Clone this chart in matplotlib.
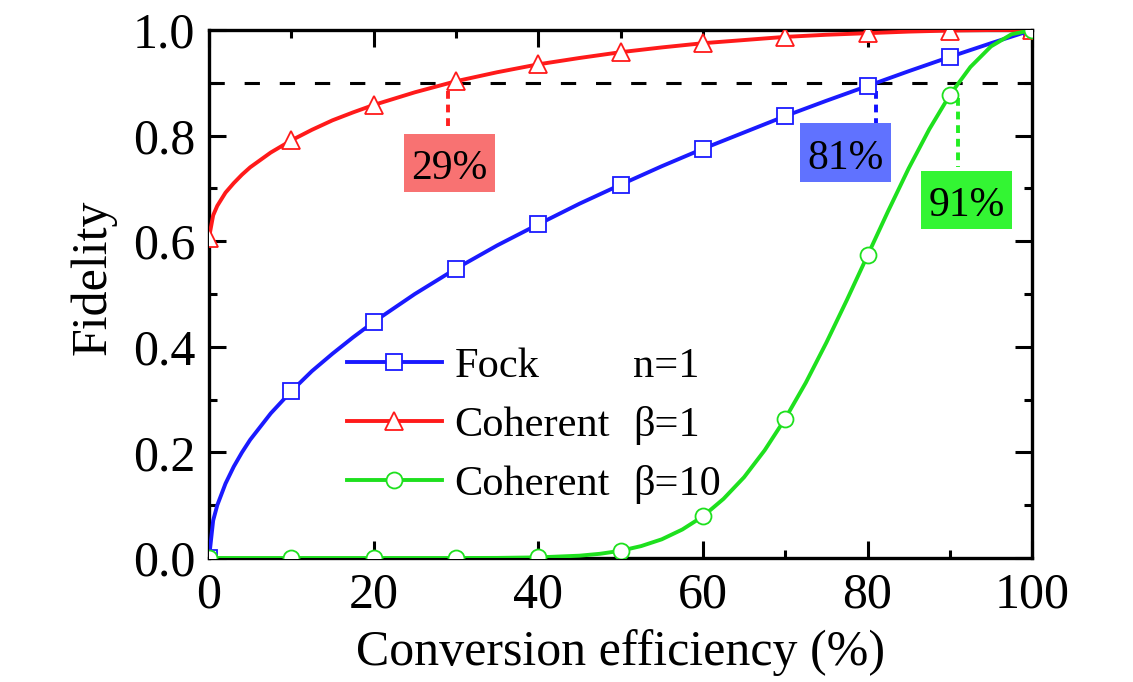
import matplotlib
matplotlib.use('Agg')
import matplotlib.pyplot as plt
from matplotlib.patches import Rectangle
from matplotlib.transforms import IdentityTransform
import numpy as np

plt.rcParams['font.family'] = ['Liberation Serif', 'DejaVu Serif']

# curve readings (conversion efficiency in %, fidelity)
fock_x = [0, 0.5, 1, 2, 3, 4, 5, 7.5, 10, 12.5, 15, 17.5, 20, 25, 30, 35, 40, 45, 50,
          55, 60, 65, 70, 75, 80, 85, 90, 95, 100]
fock_y = [0.0, 0.071, 0.100, 0.141, 0.173, 0.200, 0.224, 0.274, 0.316, 0.354, 0.387, 0.418,
          0.447, 0.500, 0.548, 0.592, 0.632, 0.671, 0.707, 0.742, 0.775, 0.806, 0.837,
          0.866, 0.894, 0.922, 0.949, 0.975, 1.0]

coh1_x = fock_x
coh1_y = [0.607, 0.649, 0.667, 0.692, 0.710, 0.726, 0.740, 0.768, 0.791, 0.811, 0.829, 0.844,
          0.858, 0.882, 0.903, 0.920, 0.935, 0.947, 0.958, 0.967, 0.975, 0.981, 0.987,
          0.991, 0.994, 0.997, 0.999, 1.0, 1.0]

coh10_x = [0, 10, 20, 30, 35, 40, 45, 47.5, 50, 52.5, 55, 57.5, 60, 62.5, 65, 67.5, 70,
           72.5, 75, 77.5, 80, 82.5, 85, 87.5, 90, 92.5, 95, 97.5, 100]
coh10_y = [0.0, 0.0, 0.0, 0.0, 0.0002, 0.0012, 0.0044, 0.008, 0.0137, 0.0226, 0.0354, 0.054,
           0.0789, 0.112, 0.153, 0.204, 0.264, 0.332, 0.408, 0.489, 0.573, 0.657, 0.738,
           0.812, 0.877, 0.930, 0.969, 0.992, 1.0]

series_labels = ['Fock', 'Coherent', 'Coherent']
series_params = ['n=1', '\u03b2=1', '\u03b2=10']

threshold = 0.9
crossings = [29, 81, 91]
crossing_labels = ['29%', '81%', '91%']
box_colors = ['#f87272', '#6072ff', '#33f533']
dot_colors = ['#ff2020', '#1010ff', '#22ee22']

fig = plt.figure(figsize=(11.33, 6.82), dpi=100)
ax = fig.add_axes([0.1845, 0.1818, 0.7265, 0.7742])


def every10(xs):
    return [i for i, v in enumerate(xs) if v % 10 == 0]


styles = [
    (fock_x, fock_y, '#1a1aff', 's', 11.5),
    (coh1_x, coh1_y, '#ff1a1a', '^', 13.5),
    (coh10_x, coh10_y, '#1ee01e', 'o', 11.5),
]
handles = []
for (xs, ys, c, m, ms), lab in zip(styles, series_labels):
    h, = ax.plot(xs, ys, color=c, lw=2.8, marker=m, ms=ms, mfc='white', mec=c,
                 mew=1.3, markevery=every10(xs), label=lab, zorder=3)
    handles.append(h)

ax.axhline(threshold, color='black', lw=2.2, dashes=(5, 6.5), zorder=2)

# crossing markers and labels (box: 91 x 58 px)
tops = [0.885, 0.885, 0.872]
bottoms = [0.81, 0.79, 0.74]
box_pos = [(29.2, 0.748), (77.3, 0.768), (92.0, 0.678)]
bw, bh = 11.06, 0.110
for x, t, b, lab, bc, dc, (bx, by) in zip(crossings, tops, bottoms, crossing_labels,
                                          box_colors, dot_colors, box_pos):
    ax.plot([x, x], [t, b], color=dc, lw=2.8, dashes=(2.0, 1.5), zorder=2)
    ax.add_patch(Rectangle((bx - bw / 2, by - bh / 2), bw, bh, fc=bc, ec='none', zorder=4))
    ax.text(bx, by - 0.031, lab, fontsize=30, ha='center', va='baseline', color='black',
            zorder=5)

leg = ax.legend(handles=handles, loc='upper left', bbox_to_anchor=(0.167, 0.399),
                frameon=False, fontsize=30.5, handlelength=2.25, handletextpad=0.3,
                labelspacing=0.48, borderpad=0, borderaxespad=0)

ax.set_xlim(0, 100)
ax.set_ylim(0, 1.0)
ax.set_xticks(np.arange(0, 101, 20))
ax.set_xticks(np.arange(10, 100, 20), minor=True)
ax.set_yticks(np.arange(0, 1.01, 0.2))
ax.set_yticks(np.arange(0.1, 1.0, 0.2), minor=True)
ax.set_yticklabels(['0.0', '0.2', '0.4', '0.6', '0.8', '1.0'])
ax.tick_params(which='both', direction='in', top=True, right=True, width=2.2,
               labelsize=36, pad=10)
ax.tick_params(which='major', length=12)
ax.tick_params(which='minor', length=6)
for s in ax.spines.values():
    s.set_linewidth(2.4)

ax.set_xlabel('Conversion efficiency (%)', fontsize=36, labelpad=8)
ax.set_ylabel('Fidelity', fontsize=36)
ax.yaxis.set_label_coords(-0.112, 0.532)

# second legend column, aligned with the legend rows
fig.canvas.draw()
x_param = ax.transData.transform((51.5, 0))[0]
for t, p in zip(leg.get_texts(), series_params):
    bb = t.get_window_extent()
    fig.text(x_param, bb.y0, p, fontsize=30.5, ha='left', va='bottom',
             transform=IdentityTransform())

fig.savefig('out.png', dpi=100, facecolor='white')
